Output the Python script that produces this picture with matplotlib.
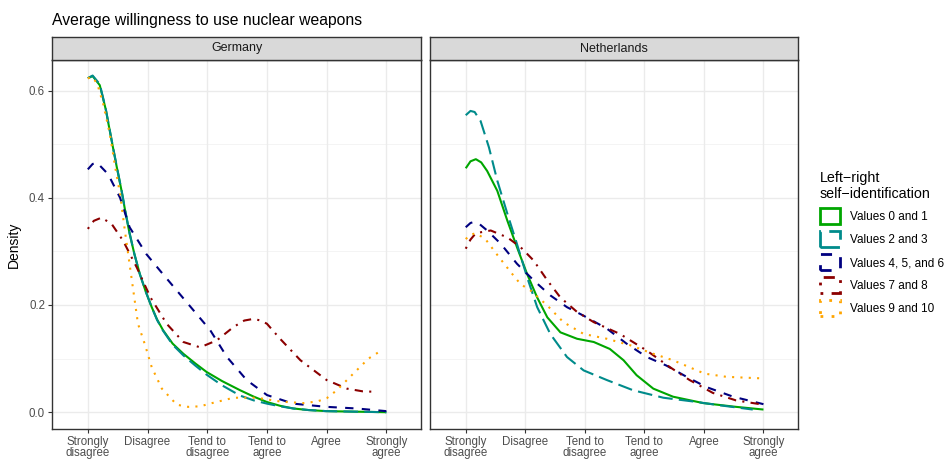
import matplotlib
matplotlib.use("Agg")
import matplotlib.pyplot as plt
from matplotlib.patches import Patch

plt.rcParams['font.family'] = ['Liberation Sans', 'DejaVu Sans']

countries = ["Germany", "Netherlands"]
tick_labels = ["Strongly\ndisagree", "Disagree", "Tend to\ndisagree", "Tend to\nagree", "Agree", "Strongly\nagree"]
groups = ["Values 0 and 1", "Values 2 and 3", "Values 4, 5, and 6", "Values 7 and 8", "Values 9 and 10"]

# Germany
de_g01_x = [1.0, 1.08, 1.2, 1.30, 1.40, 1.48, 1.565, 1.63, 1.70, 1.78, 1.87, 1.97, 2.07, 2.16, 2.26, 2.42, 2.60, 2.80, 2.99, 3.25, 3.55, 3.78, 4.0, 4.22, 4.44, 4.7, 5.0, 5.5, 6.0]
de_g01_y = [0.623, 0.627, 0.61, 0.565, 0.506, 0.46, 0.413, 0.373, 0.333, 0.295, 0.258, 0.225, 0.196, 0.173, 0.153, 0.128, 0.109, 0.091, 0.075, 0.058, 0.041, 0.029, 0.019, 0.012, 0.007, 0.004, 0.002, 0.001, 0.0]
de_g23_x = [1.0, 1.08, 1.2, 1.30, 1.40, 1.48, 1.565, 1.63, 1.70, 1.78, 1.87, 1.97, 2.07, 2.16, 2.26, 2.42, 2.60, 2.80, 2.99, 3.25, 3.55, 3.78, 4.0, 4.22, 4.44, 4.7, 5.0, 5.5, 6.0]
de_g23_y = [0.623, 0.628, 0.612, 0.566, 0.507, 0.461, 0.414, 0.374, 0.334, 0.295, 0.258, 0.225, 0.196, 0.172, 0.152, 0.126, 0.106, 0.087, 0.07, 0.05, 0.031, 0.022, 0.016, 0.011, 0.007, 0.004, 0.002, 0.001, 0.0]
de_g456_x = [1.0, 1.08, 1.15, 1.34, 1.54, 1.70, 1.98, 2.21, 2.49, 2.77, 3.05, 3.33, 3.66, 4.0, 4.44, 5.0, 5.5, 6.0]
de_g456_y = [0.453, 0.463, 0.466, 0.444, 0.40, 0.345, 0.295, 0.264, 0.227, 0.19, 0.153, 0.103, 0.06, 0.032, 0.016, 0.01, 0.007, 0.002]
de_g78_x = [1.0, 1.1, 1.23, 1.40, 1.59, 1.82, 2.05, 2.32, 2.60, 2.88, 3.16, 3.44, 3.62, 3.77, 3.9, 4.0, 4.22, 4.56, 5.0, 5.34, 5.6, 5.84]
de_g78_y = [0.342, 0.357, 0.363, 0.351, 0.32, 0.27, 0.214, 0.165, 0.131, 0.121, 0.134, 0.159, 0.171, 0.174, 0.171, 0.165, 0.137, 0.097, 0.06, 0.044, 0.039, 0.038]
de_g910_x = [1.0, 1.08, 1.16, 1.26, 1.37, 1.46, 1.54, 1.62, 1.73, 1.84, 1.96, 2.07, 2.24, 2.49, 2.68, 2.88, 3.08, 3.44, 3.83, 4.22, 4.61, 4.84, 5.0, 5.17, 5.42, 5.70, 5.87]
de_g910_y = [0.623, 0.625, 0.612, 0.574, 0.518, 0.456, 0.407, 0.339, 0.252, 0.165, 0.125, 0.084, 0.044, 0.014, 0.010, 0.011, 0.017, 0.027, 0.027, 0.02, 0.017, 0.02, 0.026, 0.041, 0.069, 0.1, 0.112]

# Netherlands
nl_g01_x = [1.0, 1.08, 1.17, 1.26, 1.36, 1.53, 1.70, 1.86, 2.03, 2.20, 2.37, 2.59, 2.87, 3.15, 3.42, 3.65, 3.87, 4.15, 4.48, 4.99, 5.54, 6.0]
nl_g01_y = [0.455, 0.468, 0.472, 0.466, 0.45, 0.413, 0.357, 0.308, 0.258, 0.214, 0.177, 0.149, 0.137, 0.131, 0.118, 0.097, 0.069, 0.044, 0.029, 0.017, 0.010, 0.005]
nl_g23_x = [1.0, 1.08, 1.15, 1.25, 1.39, 1.53, 1.70, 1.86, 2.03, 2.20, 2.42, 2.70, 2.98, 3.37, 3.81, 4.32, 4.82, 5.26, 5.82]
nl_g23_y = [0.554, 0.562, 0.56, 0.543, 0.494, 0.432, 0.37, 0.314, 0.252, 0.196, 0.146, 0.103, 0.078, 0.06, 0.041, 0.027, 0.02, 0.013, 0.005]
nl_g456_x = [1.0, 1.08, 1.14, 1.22, 1.36, 1.59, 1.86, 2.14, 2.42, 2.70, 2.98, 3.37, 3.70, 4.04, 4.37, 4.71, 5.04, 5.49, 6.0]
nl_g456_y = [0.345, 0.353, 0.355, 0.352, 0.339, 0.314, 0.277, 0.246, 0.218, 0.196, 0.18, 0.156, 0.128, 0.103, 0.087, 0.066, 0.047, 0.029, 0.015]
nl_g78_x = [1.0, 1.08, 1.17, 1.42, 1.70, 1.92, 2.14, 2.37, 2.59, 2.87, 3.15, 3.59, 4.04, 4.43, 4.76, 5.15, 5.54, 6.0]
nl_g78_y = [0.305, 0.322, 0.334, 0.339, 0.326, 0.308, 0.283, 0.246, 0.214, 0.187, 0.168, 0.146, 0.115, 0.084, 0.06, 0.036, 0.022, 0.014]
nl_g910_x = [1.0, 1.08, 1.17, 1.33, 1.56, 1.78, 1.92, 2.09, 2.37, 2.64, 2.98, 3.37, 3.76, 4.15, 4.48, 4.82, 5.01, 5.38, 6.0]
nl_g910_y = [0.323, 0.331, 0.334, 0.323, 0.289, 0.258, 0.239, 0.227, 0.199, 0.168, 0.146, 0.137, 0.125, 0.109, 0.097, 0.081, 0.072, 0.066, 0.063]

data = {
    "Germany": [(de_g01_x, de_g01_y), (de_g23_x, de_g23_y), (de_g456_x, de_g456_y), (de_g78_x, de_g78_y), (de_g910_x, de_g910_y)],
    "Netherlands": [(nl_g01_x, nl_g01_y), (nl_g23_x, nl_g23_y), (nl_g456_x, nl_g456_y), (nl_g78_x, nl_g78_y), (nl_g910_x, nl_g910_y)],
}

colors = ["#00A600", "#008B8B", "#000080", "#8B0000", "#FFA500"]
dashes = [None, (7, 3), (4, 4), (1, 3, 4, 3), (1, 3)]
lw = 1.5

W, H = 948, 459
fig = plt.figure(figsize=(W / 100, H / 100), dpi=100)

panels = [(52, 421), (430, 798)]
top, bottom = 60, 429
strip_top = 37
axes = []
for i, (c, (l, r)) in enumerate(zip(countries, panels)):
    ax = fig.add_axes([l / W, 1 - bottom / H, (r - l) / W, (bottom - top) / H])
    ax.set_xlim(0.4, 6.58)
    ax.set_ylim(-0.0313, 0.657)
    ax.set_facecolor("white")
    for y in [0.1, 0.3, 0.5]:
        ax.axhline(y, color="#F2F2F2", lw=0.6, zorder=0)
    for y in [0.0, 0.2, 0.4, 0.6]:
        ax.axhline(y, color="#EBEBEB", lw=1.0, zorder=0)
    for x in range(1, 7):
        ax.axvline(x, color="#EBEBEB", lw=1.0, zorder=0)
    for (xs, ys), col, d in zip(data[c], colors, dashes):
        line, = ax.plot(xs, ys, color=col, lw=lw, solid_capstyle="butt", dash_capstyle="butt", zorder=3)
        if d is not None:
            line.set_dashes(d)
    ax.set_xticks(range(1, 7))
    ax.set_xticklabels(tick_labels, fontsize=8.3, color="#4D4D4D", linespacing=0.9)
    ax.set_yticks([0.0, 0.2, 0.4, 0.6])
    if i == 0:
        ax.set_yticklabels(["0.0", "0.2", "0.4", "0.6"], fontsize=8.3, color="#4D4D4D")
        ax.set_ylabel("Density", fontsize=10, color="black", labelpad=6)
    else:
        ax.tick_params(axis="y", left=False, labelleft=False)
    ax.tick_params(length=3, width=0.8, color="#333333", pad=2)
    for s in ax.spines.values():
        s.set_color("#333333")
        s.set_linewidth(1.0)
    # strip
    sax = fig.add_axes([l / W, 1 - top / H, (r - l) / W, (top - strip_top) / H])
    sax.set_facecolor("#D9D9D9")
    sax.set_xticks([])
    sax.set_yticks([])
    for s in sax.spines.values():
        s.set_color("#333333")
        s.set_linewidth(1.0)
    sax.text(0.5, 0.5, c, transform=sax.transAxes, ha="center", va="center", fontsize=9, color="#1A1A1A")
    axes.append(ax)

fig.text(52 / W, 1 - 20 / H, "Average willingness to use nuclear weapons", fontsize=11.3, ha="left", va="center", color="black")

handles = []
for col, d in zip(colors, dashes):
    p = Patch(facecolor="white", edgecolor=col, linewidth=2.0)
    if d is not None:
        p.set_linestyle((0, d))
    handles.append(p)

leg = fig.legend(handles, groups, loc="upper left", bbox_to_anchor=(820 / W, 1 - 171 / H),
                 frameon=False, fontsize=8.5, title="Left\u2212right\nself\u2212identification",
                 title_fontsize=10.3, handlelength=1.7, handleheight=1.7, labelspacing=0.6,
                 handletextpad=0.8, borderaxespad=0, borderpad=0)
leg._legend_box.align = "left"

fig.savefig("out.png", dpi=100)
